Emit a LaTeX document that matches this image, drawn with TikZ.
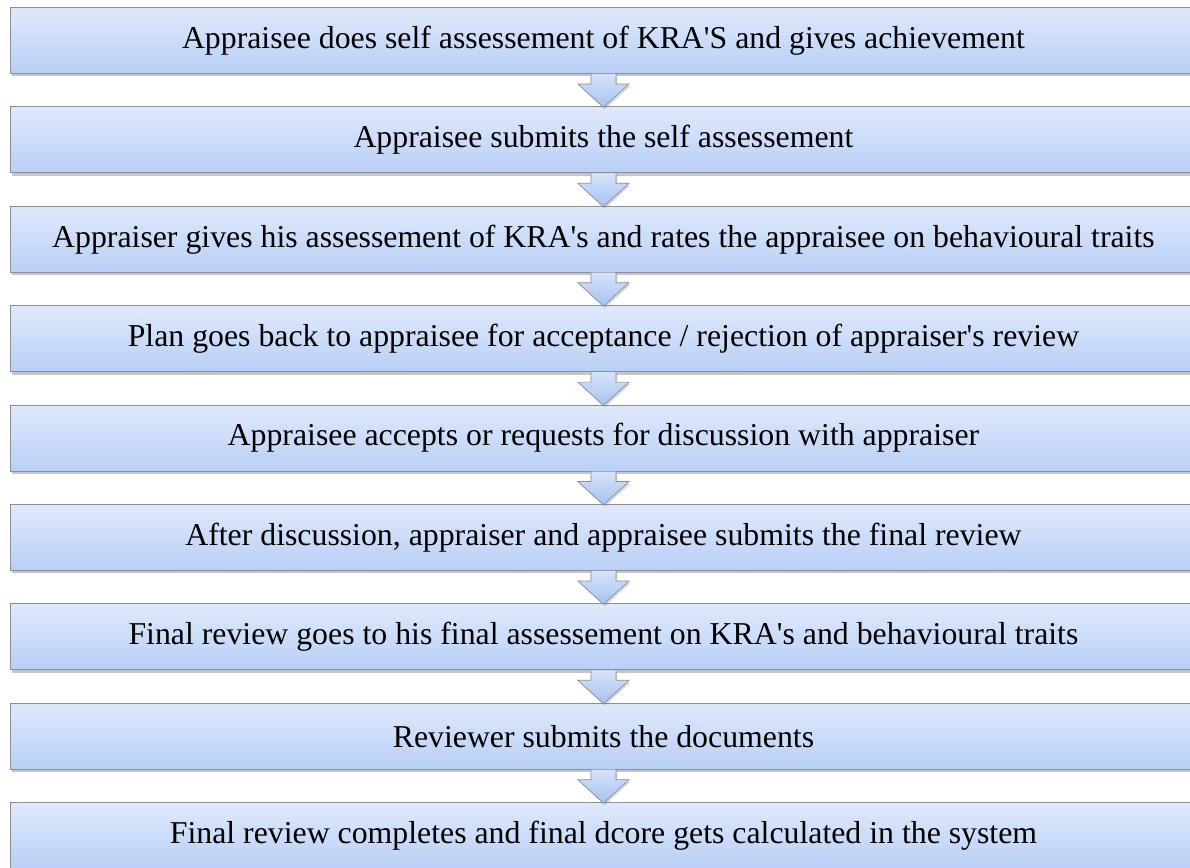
\documentclass[tikz,border=0pt]{standalone}
\usepackage{fontspec}
\setmainfont{Liberation Serif}
\usetikzlibrary{positioning,shadows}
\definecolor{boxtop}{HTML}{DFE9FC}
\definecolor{boxbot}{HTML}{B9CFF6}
\definecolor{boxline}{HTML}{8C8E94}
\definecolor{arrtop}{HTML}{D6E3FA}
\definecolor{arrbot}{HTML}{A6C1F0}
\newcommand{\apos}{\textquotesingle}
\tikzset{
  stepbox/.style={draw=boxline,line width=0.9pt,top color=boxtop,bottom color=boxbot,
    minimum width=1186pt,minimum height=66pt,inner sep=0pt,
    font=\fontsize{31.8}{36}\selectfont,
    drop shadow={opacity=0.45,shadow xshift=1.5pt,shadow yshift=-3pt}},
  flowarrow/.style={draw=boxline,line width=0.7pt,top color=arrtop,bottom color=arrbot,
    drop shadow={opacity=0.3,shadow xshift=1.5pt,shadow yshift=-2pt}}
}
\begin{document}
\begin{tikzpicture}[x=1pt,y=-1pt,node distance=32.5pt]
  \useasboundingbox (0,0) rectangle (1190,867);
  %steps of the appraisal
  \node[stepbox,anchor=north west] (b1) at (10,7) {Appraisee does self assessement of KRA\apos S and gives achievement};
  \node[stepbox,below=of b1] (b2) {Appraisee submits the self assessement};
  \node[stepbox,below=of b2] (b3) {Appraiser gives his assessement of KRA\apos s and rates the appraisee on behavioural traits};
  \node[stepbox,below=of b3] (b4) {Plan goes back to appraisee for acceptance / rejection of appraiser\apos s review};
  \node[stepbox,below=of b4] (b5) {Appraisee accepts or requests for discussion with appraiser};
  \node[stepbox,below=of b5] (b6) {After discussion, appraiser and appraisee submits the final review};
  \node[stepbox,below=of b6] (b7) {Final review goes to his final assessement on KRA\apos s and behavioural traits};
  \node[stepbox,below=of b7] (b8) {Reviewer submits the documents};
  \node[stepbox,below=of b8] (b9) {Final review completes and final dcore gets calculated in the system};
  %block arrows between the steps
  \foreach \i [count=\j from 2] in {1,...,8}
    \draw[flowarrow] ([xshift=-12.5pt]b\i.south) -- ([xshift=-12.5pt,yshift=-10pt]b\i.south)
      -- ([xshift=-25.5pt,yshift=-10pt]b\i.south) -- ([yshift=-1pt]b\j.north)
      -- ([xshift=25.5pt,yshift=-10pt]b\i.south) -- ([xshift=12.5pt,yshift=-10pt]b\i.south)
      -- ([xshift=12.5pt]b\i.south);
\end{tikzpicture}
\end{document}
